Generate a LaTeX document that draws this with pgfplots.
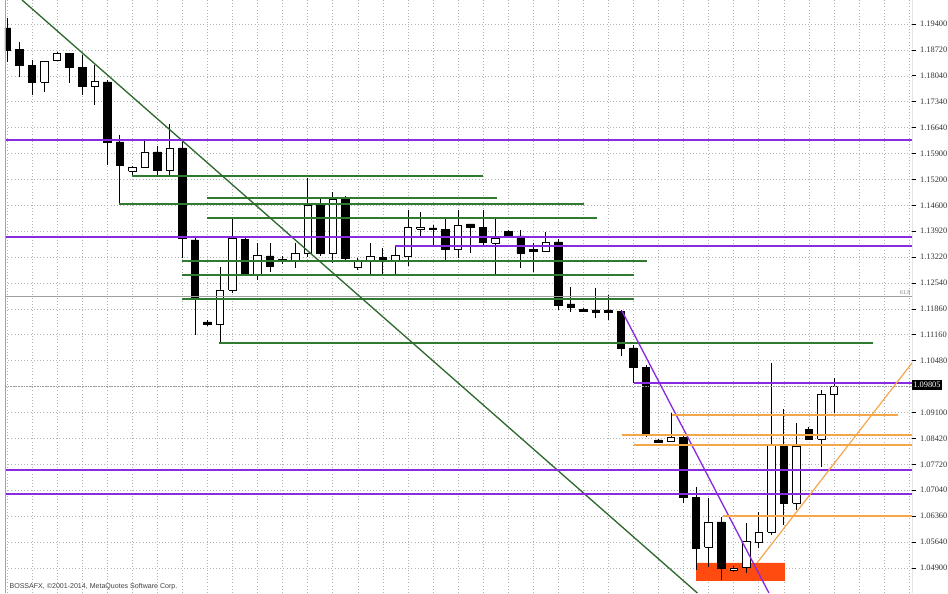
\documentclass[border=0pt]{standalone}
\usepackage{pgfplots}
\pgfplotsset{compat=1.18}
\usepackage{fontspec}
\setmainfont{Liberation Serif}
\newfontfamily\sansf{Liberation Sans}
\definecolor{violetline}{HTML}{8A2BE2}
\definecolor{greenline}{HTML}{2F7A2F}
\definecolor{greendiag}{HTML}{2E6A2E}
\definecolor{orangeline}{HTML}{F4A64A}
\definecolor{orangered}{HTML}{FF4A10}
% candle: fill, index, open, high, low, close
\newcommand{\cdl}[6]{%
  \pgfmathsetmacro\xa{#2-0.3}\pgfmathsetmacro\xb{#2+0.3}%
  \addplot[black, line width=0.6pt] coordinates {(#2,#5) (#2,#4)};
  \addplot[draw=black, fill=#1, line width=0.6pt] coordinates {(\xa,#3) (\xb,#3) (\xb,#6) (\xa,#6) (\xa,#3)};
}
\newcommand{\bull}{\cdl{white}}
\newcommand{\bear}{\cdl{black}}
\begin{document}
\begin{tikzpicture}
\useasboundingbox (0,0) rectangle (711pt,444.75pt);
\begin{axis}[at={(3.75pt,0pt)}, anchor=south west, scale only axis,
  width=680.25pt, height=444.75pt,
  xmin=-0.16, xmax=72.23, ymin=1.04295, ymax=1.20010,
  axis line style={draw=none},
  xtick={0,2,...,72}, xticklabels={}, x tick style={draw=none},
  ytick={1.19374,1.18688,1.18001,1.17315,1.16629,1.15942,1.15256,1.14570,1.13883,1.13197,1.12510,1.11824,1.11138,1.10451,1.09765,1.09079,1.08392,1.07706,1.07020,1.06333,1.05647,1.04961},
  yticklabels={1.19400,1.18720,1.18040,1.17340,1.16640,1.15900,1.15200,1.14600,1.13920,1.13220,1.12540,1.11860,1.11160,1.10480,{},1.09100,1.08420,1.07720,1.07040,1.06360,1.05640,1.04900},
  ytick pos=right, yticklabel pos=right, tick align=outside,
  minor y tick num=4, major tick length=3pt, minor tick length=1.5pt,
  y tick style={black, line width=0.5pt},
  yticklabel style={font=\fontsize{6.3}{7}\selectfont, text=black!80, xshift=-0.5pt},
  extra y ticks={1.09805}, extra y tick labels={1.09805},
  extra y tick style={grid=none, major tick length=0pt, yticklabel style={fill=black, text=white, inner sep=1.3pt}},
  grid=major,
  major grid style={gray!60, dash pattern=on 0.8pt off 1.6pt, line width=0.45pt},
  clip=true,
]
% orange-red zone
\addplot[fill=orangered, draw=none] coordinates {(54.99,1.04614) (62.09,1.04614) (62.09,1.05091) (54.99,1.05091) (54.99,1.04614)};
% candles
\bear{0}{1.19268}{1.19533}{1.18367}{1.18685}
\bear{1}{1.18711}{1.18897}{1.17969}{1.18287}
\bear{2}{1.18287}{1.18420}{1.17492}{1.17837}
\bull{3}{1.17837}{1.18393}{1.17572}{1.18393}
\bull{4}{1.18420}{1.18632}{1.18393}{1.18605}
\bear{5}{1.18605}{1.18605}{1.17810}{1.18234}
\bear{6}{1.18234}{1.18552}{1.17492}{1.17731}
\bull{7}{1.17731}{1.18287}{1.17227}{1.17863}
\bear{8}{1.17837}{1.17890}{1.15637}{1.16247}
\bear{9}{1.16247}{1.16432}{1.14604}{1.15637}
\bull{10}{1.15478}{1.15611}{1.15346}{1.15584}
\bull{11}{1.15584}{1.16326}{1.15558}{1.15982}
\bear{12}{1.15982}{1.16141}{1.15346}{1.15505}
\bull{13}{1.15505}{1.16724}{1.15346}{1.16088}
\bear{14}{1.16088}{1.16326}{1.13173}{1.13703}
\bear{15}{1.13650}{1.13703}{1.11132}{1.12086}
\bear{16}{1.11477}{1.11530}{1.11371}{1.11424}
\bull{17}{1.11424}{1.12934}{1.10920}{1.12325}
\bull{18}{1.12325}{1.14233}{1.12245}{1.13703}
\bear{19}{1.13676}{1.13703}{1.12696}{1.12722}
\bull{20}{1.12722}{1.13570}{1.12590}{1.13252}
\bear{21}{1.13226}{1.13570}{1.12802}{1.12961}
\bear{22}{1.13146}{1.13226}{1.13014}{1.13093}
\bull{23}{1.13120}{1.13570}{1.12908}{1.13305}
\bull{24}{1.13305}{1.15293}{1.13199}{1.14577}
\bear{25}{1.14630}{1.14789}{1.13226}{1.13305}
\bull{26}{1.13305}{1.14922}{1.13040}{1.14736}
\bear{27}{1.14763}{1.14816}{1.13120}{1.13173}
\bull{28}{1.12934}{1.13173}{1.12855}{1.13093}
\bull{29}{1.13120}{1.13570}{1.12696}{1.13226}
\bear{30}{1.13199}{1.13438}{1.12696}{1.13146}
\bull{31}{1.13120}{1.13464}{1.12722}{1.13252}
\bull{32}{1.13226}{1.14445}{1.12961}{1.13994}
\bull{33}{1.13941}{1.14392}{1.13729}{1.13994}
\bear{34}{1.13968}{1.14047}{1.13517}{1.13941}
\bear{35}{1.13941}{1.14233}{1.13120}{1.13411}
\bull{36}{1.13411}{1.14445}{1.13173}{1.14047}
\bear{37}{1.14074}{1.14074}{1.13305}{1.13994}
\bear{38}{1.13994}{1.14445}{1.13464}{1.13597}
\bull{39}{1.13570}{1.14233}{1.12722}{1.13703}
\bear{40}{1.13888}{1.13915}{1.13703}{1.13756}
\bear{41}{1.13756}{1.13915}{1.12908}{1.13305}
\bear{42}{1.13411}{1.13570}{1.12802}{1.13358}
\bull{43}{1.13358}{1.13862}{1.13332}{1.13597}
\bear{44}{1.13597}{1.13676}{1.11795}{1.11927}
\bear{45}{1.11954}{1.12404}{1.11742}{1.11874}
\bear{46}{1.11821}{1.11848}{1.11742}{1.11768}
\bear{47}{1.11795}{1.12378}{1.11583}{1.11742}
\bear{48}{1.11795}{1.12192}{1.11530}{1.11742}
\bear{49}{1.11768}{1.11795}{1.10576}{1.10788}
\bear{50}{1.10788}{1.10867}{1.09860}{1.10284}
\bear{51}{1.10284}{1.10337}{1.08429}{1.08482}
\bear{52}{1.08350}{1.08376}{1.08270}{1.08297}
\bull{53}{1.08323}{1.09065}{1.08297}{1.08429}
\bear{54}{1.08429}{1.08456}{1.06680}{1.06839}
\bear{55}{1.06839}{1.07104}{1.04905}{1.05488}
\bull{56}{1.05514}{1.06813}{1.04984}{1.06177}
\bear{57}{1.06177}{1.06309}{1.04640}{1.04958}
\bull{58}{1.04905}{1.05011}{1.04852}{1.04958}
\bull{59}{1.04984}{1.06150}{1.04825}{1.05673}
\bull{60}{1.05647}{1.06442}{1.05488}{1.05912}
\bull{61}{1.05912}{1.10390}{1.05832}{1.08217}
\bear{62}{1.08191}{1.09171}{1.06097}{1.06680}
\bull{63}{1.06680}{1.08800}{1.06495}{1.08191}
\bear{64}{1.08641}{1.08694}{1.08350}{1.08376}
\bull{65}{1.08376}{1.09675}{1.07634}{1.09569}
\bull{66}{1.09569}{1.09993}{1.09065}{1.09781}
% gray reference lines
\addplot[gray!75, line width=0.5pt] coordinates {(-0.16,1.12166) (72.23,1.12166)};
\addplot[gray!80, line width=0.55pt, dash pattern=on 1.2pt off 0.8pt] coordinates {(-0.16,1.09765) (72.23,1.09765)};
% green horizontal lines
\addplot[greenline, line width=1.2pt] coordinates {(9.98,1.15346) (37.99,1.15346)};
\addplot[greenline, line width=1.2pt] coordinates {(15.96,1.14763) (39.11,1.14763)};
\addplot[greenline, line width=1.2pt] coordinates {(8.94,1.14604) (46.05,1.14604)};
\addplot[greenline, line width=1.2pt] coordinates {(15.96,1.14233) (47.09,1.14233)};
\addplot[greenline, line width=1.2pt] coordinates {(13.97,1.13093) (51.08,1.13093)};
\addplot[greenline, line width=1.2pt] coordinates {(13.97,1.12722) (50.04,1.12722)};
\addplot[greenline, line width=1.2pt] coordinates {(13.97,1.12086) (50.04,1.12086)};
\addplot[greenline, line width=1.2pt] coordinates {(16.92,1.10920) (69.11,1.10920)};
% green trend line
\addplot[greendiag, line width=1pt] coordinates {(1.20,1.20010) (55.10,1.04295)};
% purple lines
\addplot[violetline, line width=1.9pt] coordinates {(-0.16,1.16300) (72.23,1.16300)};
\addplot[violetline, line width=1.9pt] coordinates {(-0.16,1.13729) (72.23,1.13729)};
\addplot[violetline, line width=1.1pt] coordinates {(30.97,1.13491) (72.23,1.13491)};
\addplot[violetline, line width=1.3pt] coordinates {(50.04,1.09861) (72.23,1.09861)};
\addplot[violetline, line width=1.9pt] coordinates {(-0.16,1.07555) (72.23,1.07555)};
\addplot[violetline, line width=1.9pt] coordinates {(-0.16,1.06919) (72.23,1.06919)};
\addplot[violetline, line width=1pt] coordinates {(49.08,1.11769) (60.81,1.04295)};
% orange lines
\addplot[orangeline, line width=1.3pt] coordinates {(53.07,1.09012) (71.11,1.09012)};
\addplot[orangeline, line width=1.3pt] coordinates {(49.08,1.08482) (72.23,1.08482)};
\addplot[orangeline, line width=1.3pt] coordinates {(50.04,1.08217) (72.23,1.08217)};
\addplot[orangeline, line width=1.3pt] coordinates {(57.14,1.06336) (72.23,1.06336)};
\addplot[orangeline, line width=0.9pt] coordinates {(59.86,1.05091) (72.23,1.10391)};
% borders
\draw[gray!70, line width=0.6pt] (rel axis cs:0,0) -- (rel axis cs:0,1);
\draw[black!80, line width=0.6pt] (rel axis cs:1,0) -- (rel axis cs:1,1);
\node[anchor=south east, font=\fontsize{4.5}{5}\selectfont, text=gray, inner sep=1pt] at (axis cs:72.23,1.12166) {61.8};
\node[anchor=south west, font=\sansf\fontsize{5.3}{6}\selectfont, text=black!75, inner sep=0.5pt] at (rel axis cs:0.004,0.004) {BOSSAFX, \textcopyright 2001-2014, MetaQuotes Software Corp.};
\end{axis}
\end{tikzpicture}
\end{document}
